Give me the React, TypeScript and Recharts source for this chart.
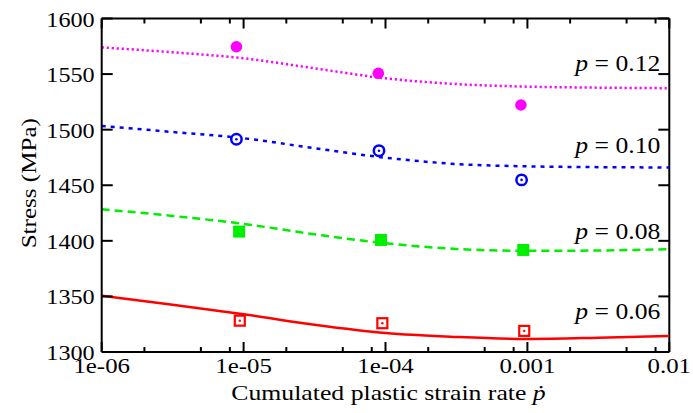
import React from 'react';
import { ComposedChart, Line, Scatter, XAxis, YAxis, ReferenceLine, ReferenceDot, Label } from 'recharts';

// ---- data ----
const curveRates = [1e-6, 3.16e-6, 1e-5, 3.16e-5, 1e-4, 3.16e-4, 1e-3, 3.16e-3, 1e-2];
const curveP006 = [1350.5, 1342.5, 1334, 1324.5, 1317, 1313.5, 1311.7, 1312.8, 1314.5];
const curveP008 = [1428.4, 1422.4, 1415.2, 1405.9, 1397.8, 1392.7, 1391, 1391.3, 1392.5];
const curveP010 = [1503.3, 1497.9, 1492.3, 1483.3, 1474.8, 1469.1, 1467, 1466.3, 1466];
const curveP012 = [1574, 1569.6, 1564.2, 1555.2, 1546.2, 1541, 1538.7, 1537.8, 1537.3];

const expRatesP006 = [9.4e-6, 9.5e-5, 9.5e-4];
const expP006 = [1328.2, 1325.9, 1319];
const expRatesP008 = [9.3e-6, 9.3e-5, 9.35e-4];
const expP008 = [1408.3, 1400.8, 1391.8];
const expRatesP010 = [8.9e-6, 9.0e-5, 9.1e-4];
const expP010 = [1491.4, 1481.1, 1454.8];
const expRatesP012 = [8.9e-6, 8.9e-5, 9.0e-4];
const expP012 = [1574.6, 1550.7, 1522.2];

const seriesLabels = ['0.06', '0.08', '0.10', '0.12'];
const labelStress = [1329.3, 1401.7, 1479, 1553.2];
const labelRate = 0.01;

const majorXTicks = [1e-6, 1e-5, 1e-4, 1e-3, 1e-2];
const xTickLabels = ['1e-06', '1e-05', '1e-04', '0.001', '0.01'];
const minorMultipliers = [2, 5, 8];
const yTicks = [1300, 1350, 1400, 1450, 1500, 1550, 1600];

// ---- layout / style ----
const W = 693;
const H = 413;
const M = { top: 18.5, right: 23.7, bottom: 0, left: 0 };
const Y_AXIS_W = 101.7;
const X_AXIS_H = 61;
const PLOT_W = W - M.left - M.right - Y_AXIS_W;
const PLOT_H = H - M.top - M.bottom - X_AXIS_H;
const FONT = "'Liberation Serif', 'Times New Roman', Times, serif";
const FS = 22;

const MAGENTA = '#ff00ff';
const BLUE = '#0000ff';
const GREEN = '#00ee00';
const RED = '#ff0000';

const toPts = (xs: number[], ys: number[]) => xs.map((x, i) => ({ x, y: ys[i] }));

const allXTicks: number[] = [];
majorXTicks.forEach((t, i) => {
  allXTicks.push(t);
  if (i < majorXTicks.length - 1) minorMultipliers.forEach((m) => allXTicks.push(t * m));
});

const SText = ({ x, y, anchor = 'start', sx = 1.13, rot = 0, size = FS, children }: any) => (
  <text
    x={0}
    y={0}
    transform={`translate(${x} ${y}) rotate(${rot}) scale(${sx} 1)`}
    textAnchor={anchor}
    fontFamily={FONT}
    fontSize={size}
    fill="#000"
  >
    {children}
  </text>
);

const XTick = (props: any) => {
  const { x, y, payload } = props;
  const v = payload.value;
  const idx = majorXTicks.findIndex((t) => Math.abs(Math.log10(t) - Math.log10(v)) < 1e-6);
  const major = idx >= 0;
  const len = major ? 10 : 5;
  return (
    <g>
      <line x1={x} x2={x} y1={y} y2={y - len} stroke="#000" strokeWidth={2} />
      <line x1={x} x2={x} y1={y - PLOT_H} y2={y - PLOT_H + len} stroke="#000" strokeWidth={2} />
      {major && (
        <SText x={x} y={y + 21} anchor="middle" sx={1.13}>
          {xTickLabels[idx]}
        </SText>
      )}
    </g>
  );
};

const YTick = (props: any) => {
  const { x, y, payload } = props;
  const len = 11;
  return (
    <g>
      <line x1={x} x2={x + len} y1={y} y2={y} stroke="#000" strokeWidth={2} />
      <line x1={x + PLOT_W} x2={x + PLOT_W - len} y1={y} y2={y} stroke="#000" strokeWidth={2} />
      <SText x={x - 7} y={y + 8} anchor="end" sx={1.1}>
        {String(payload.value)}
      </SText>
    </g>
  );
};

const FilledCircle = (p: any) => <circle cx={p.cx} cy={p.cy} r={5.8} fill={MAGENTA} />;
const OpenCircle = (p: any) => (
  <g>
    <circle cx={p.cx} cy={p.cy} r={5.2} fill="#fff" stroke={BLUE} strokeWidth={2.5} />
    <circle cx={p.cx} cy={p.cy} r={1.3} fill={BLUE} />
  </g>
);
const FilledSquare = (p: any) => <rect x={p.cx - 6} y={p.cy - 6} width={12} height={12} fill={GREEN} />;
const OpenSquare = (p: any) => (
  <g>
    <rect x={p.cx - 5} y={p.cy - 5} width={10} height={10} fill="#fff" stroke={RED} strokeWidth={2.2} />
    <circle cx={p.cx} cy={p.cy} r={1.2} fill={RED} />
  </g>
);

const makeLabelShape = (text: string) => (p: any) => (
  <SText x={p.cx - 9} y={p.cy} anchor="end" sx={1.14} size={22.5}>
    <tspan fontStyle="italic">p</tspan>
    <tspan>{' = ' + text}</tspan>
  </SText>
);

export default function App() {
  return (
    <div style={{ position: 'absolute', left: 0, top: 0, width: W, height: H, background: '#fff' }}>
      <ComposedChart width={W} height={H} margin={M}>
        <XAxis
          type="number"
          dataKey="x"
          scale="log"
          domain={[1e-6, 1e-2]}
          allowDataOverflow
          ticks={allXTicks}
          interval={0}
          tick={<XTick />}
          tickLine={false}
          tickSize={0}
          tickMargin={0}
          height={X_AXIS_H}
          axisLine={{ stroke: '#000', strokeWidth: 2 }}
        >
          <Label
            content={(lp: any) => {
              const vb = lp.viewBox;
              return (
                <SText x={vb.x + vb.width / 2 + 3} y={vb.y + 48} anchor="middle" sx={1.17}>
                  Cumulated plastic strain rate <tspan fontStyle="italic">ṗ</tspan>
                </SText>
              );
            }}
          />
        </XAxis>
        <YAxis
          type="number"
          domain={[1300, 1600]}
          ticks={yTicks}
          interval={0}
          tick={<YTick />}
          tickLine={false}
          tickSize={0}
          tickMargin={0}
          width={Y_AXIS_W}
          axisLine={{ stroke: '#000', strokeWidth: 2 }}
        >
          <Label
            content={(lp: any) => {
              const vb = lp.viewBox;
              return (
                <SText x={36} y={vb.y + vb.height / 2 - 2} anchor="middle" rot={-90} sx={1.14}>
                  Stress (MPa)
                </SText>
              );
            }}
          />
        </YAxis>
        <ReferenceLine y={1600} stroke="#000" strokeWidth={2} />
        <ReferenceLine x={1e-2} stroke="#000" strokeWidth={2} />

        <Line data={toPts(curveRates, curveP012)} dataKey="y" type="monotone" dot={false} stroke={MAGENTA} strokeWidth={2.5} strokeDasharray="2.2 2.8" isAnimationActive={false} />
        <Line data={toPts(curveRates, curveP010)} dataKey="y" type="monotone" dot={false} stroke={BLUE} strokeWidth={2.5} strokeDasharray="4 5" isAnimationActive={false} />
        <Line data={toPts(curveRates, curveP008)} dataKey="y" type="monotone" dot={false} stroke={GREEN} strokeWidth={2.5} strokeDasharray="8 5" isAnimationActive={false} />
        <Line data={toPts(curveRates, curveP006)} dataKey="y" type="monotone" dot={false} stroke={RED} strokeWidth={2.5} isAnimationActive={false} />

        <Scatter data={toPts(expRatesP012, expP012)} dataKey="y" shape={<FilledCircle />} isAnimationActive={false} />
        <Scatter data={toPts(expRatesP010, expP010)} dataKey="y" shape={<OpenCircle />} isAnimationActive={false} />
        <Scatter data={toPts(expRatesP008, expP008)} dataKey="y" shape={<FilledSquare />} isAnimationActive={false} />
        <Scatter data={toPts(expRatesP006, expP006)} dataKey="y" shape={<OpenSquare />} isAnimationActive={false} />

        {seriesLabels.map((t, i) => (
          <ReferenceDot key={t} x={labelRate} y={labelStress[i]} r={0} shape={makeLabelShape(t)} />
        ))}
      </ComposedChart>
    </div>
  );
}
